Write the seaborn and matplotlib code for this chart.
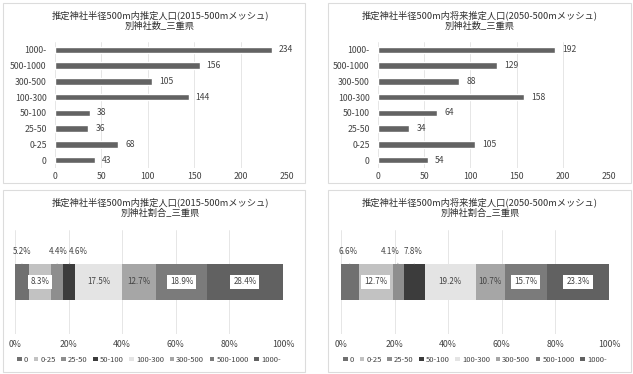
import numpy as np
import matplotlib.pyplot as plt
import seaborn as sns
from matplotlib.patches import Rectangle

# --- data --------------------------------------------------------------------
categories = ["0", "0-25", "25-50", "50-100", "100-300", "300-500", "500-1000", "1000-"]
counts_2015 = [43, 68, 36, 38, 144, 105, 156, 234]
counts_2050 = [54, 105, 34, 64, 158, 88, 129, 192]
share_2015 = [5.2, 8.3, 4.4, 4.6, 17.5, 12.7, 18.9, 28.4]
share_2050 = [6.6, 12.7, 4.1, 7.8, 19.2, 10.7, 15.7, 23.3]

titles = [
    "推定神社半径500m内推定人口(2015-500mメッシュ)\n別神社数_三重県",
    "推定神社半径500m内将来推定人口(2050-500mメッシュ)\n別神社数_三重県",
    "推定神社半径500m内推定人口(2015-500mメッシュ)\n別神社割合_三重県",
    "推定神社半径500m内将来推定人口(2050-500mメッシュ)\n別神社割合_三重県",
]

seg_colors = ["#707070", "#c2c2c2", "#8e8e8e", "#3c3c3c",
              "#e4e4e4", "#a6a6a6", "#7b7b7b", "#616161"]
text_col = "#444444"

sns.set_theme(style="white")
plt.rcParams["font.family"] = ["Noto Sans CJK JP", "DejaVu Sans"]

W, H = 633, 374
fig = plt.figure(figsize=(W / 100, H / 100), dpi=100)
fig.patch.set_facecolor("white")


def rect(x0, y0, x1, y1):
    # pixel box (top-down) -> figure fraction rect
    return [x0 / W, 1 - y1 / H, (x1 - x0) / W, (y1 - y0) / H]


# panel frames
for (x0, y0, x1, y1) in [(3, 3, 305, 183), (328, 3, 631, 183),
                         (3, 190, 305, 372), (328, 190, 631, 372)]:
    fig.patches.append(Rectangle((x0 / W, 1 - y1 / H), (x1 - x0) / W, (y1 - y0) / H,
                                 transform=fig.transFigure, fill=False,
                                 edgecolor="#dcdcdc", lw=0.8))


# --- top: horizontal count bars ----------------------------------------------
def count_panel(ax, counts, title, cx):
    order = categories[::-1]
    sns.barplot(x=counts, y=categories, order=order, color="#636363",
                width=0.42, ax=ax, saturation=1)
    ax.bar_label(ax.containers[0], padding=5, fontsize=6.2, color=text_col)
    ax.set_xlim(0, 250)
    ax.set_xticks([0, 50, 100, 150, 200, 250])
    ax.set_xlabel("")
    ax.set_ylabel("")
    ax.grid(axis="x", color="#e2e2e2", lw=0.6)
    ax.set_axisbelow(True)
    for s in ax.spines.values():
        s.set_visible(False)
    ax.tick_params(axis="both", labelsize=6.3, colors=text_col, length=0)
    ax.tick_params(axis="y", pad=6)
    ax.tick_params(axis="x", pad=3)
    fig.text(cx / W, 1 - 20.5 / H, title, ha="center", va="center",
             fontsize=6.7, color="#303030", linespacing=1.25)


ax1 = fig.add_axes(rect(55, 42, 287, 168))
count_panel(ax1, counts_2015, titles[0], 160)
ax2 = fig.add_axes(rect(378, 42, 609, 168))
count_panel(ax2, counts_2050, titles[1], 480)


# --- bottom: 100% stacked bar --------------------------------------------------
def share_panel(ax, shares, title, cx, outside, boxed):
    left = np.concatenate([[0], np.cumsum(shares)[:-1]])
    for i, cat in enumerate(categories):
        ax.barh([0], [shares[i]], left=[left[i]], height=0.346,
                color=seg_colors[i], label=cat, edgecolor="none")
        xc = left[i] + shares[i] / 2
        lab = f"{shares[i]:.1f}%"
        if i in outside:
            ax.annotate(lab, xy=(xc, 0.173), xytext=(xc + outside[i], 0.29),
                        ha="center", va="center", fontsize=5.8, color=text_col,
                        arrowprops=dict(arrowstyle="-", color="#a0a0a0", lw=0.5,
                                        shrinkA=3, shrinkB=0))
        else:
            bbox = dict(boxstyle="square,pad=0.35", fc="white", ec="none") if i in boxed else None
            ax.text(xc, 0, lab, ha="center", va="center", fontsize=5.8,
                    color=text_col, bbox=bbox)
    ax.set_xlim(0, 100)
    ax.set_ylim(-0.5, 0.5)
    ax.set_xticks([0, 20, 40, 60, 80, 100])
    ax.set_xticklabels([f"{v}%" for v in [0, 20, 40, 60, 80, 100]])
    ax.set_yticks([])
    ax.grid(axis="x", color="#e2e2e2", lw=0.6)
    ax.set_axisbelow(True)
    for s in ax.spines.values():
        s.set_visible(False)
    ax.tick_params(axis="x", labelsize=6.3, colors=text_col, length=0, pad=4)
    ax.legend(loc="upper center", bbox_to_anchor=(0.5, -0.18), ncol=8,
              frameon=False, fontsize=5.5, handlelength=0.55, handleheight=0.55,
              handletextpad=0.3, columnspacing=0.75, labelcolor=text_col,
              borderaxespad=0)
    fig.text(cx / W, 1 - 208 / H, title, ha="center", va="center",
             fontsize=6.7, color="#303030", linespacing=1.25)


ax3 = fig.add_axes(rect(15, 230, 283, 334))
share_panel(ax3, share_2015, titles[2], 160,
            outside={0: 0.0, 2: 0.5, 3: 3.5}, boxed={1, 6, 7})
ax4 = fig.add_axes(rect(341, 230, 609, 334))
share_panel(ax4, share_2050, titles[3], 480,
            outside={0: -0.5, 2: -3.0, 3: -0.5}, boxed={1, 6, 7})

fig.savefig("out.png", dpi=100, facecolor="white")
